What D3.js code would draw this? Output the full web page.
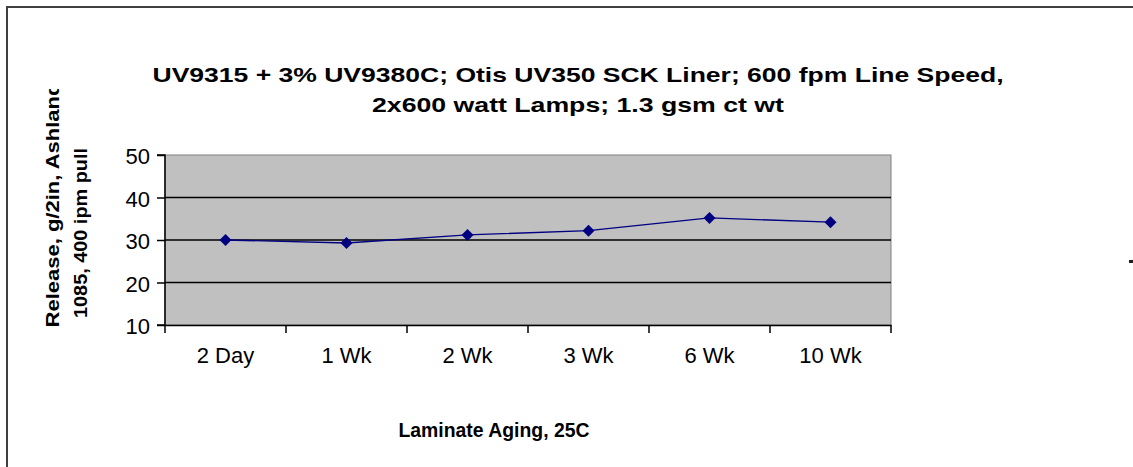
<!DOCTYPE html>
<html><head><meta charset="utf-8">
<script src="https://cdn.jsdelivr.net/npm/d3@7"></script>
<style>body{margin:0;background:#fff}svg{display:block}</style>
</head><body>
<svg id="c" width="1133" height="467"></svg>
<script>
const categories = ["2 Day","1 Wk","2 Wk","3 Wk","6 Wk","10 Wk"];
const releaseValues = [30.0, 29.3, 31.2, 32.2, 35.2, 34.2];
const yTicks = [10,20,30,40,50];
const titleLines = ["UV9315 + 3% UV9380C; Otis UV350 SCK Liner; 600 fpm Line Speed,", "2x600 watt Lamps; 1.3 gsm ct wt"];
const yTitleLines = ["Release, g/2in, Ashland", "1085, 400 ipm pull"];
const xTitle = "Laminate Aging, 25C";

const svg = d3.select("#c");
const L=165,R=891,T=155,B=325;
const x = d3.scaleBand().domain(categories).range([L,R]).padding(0);
const y = d3.scaleLinear().domain([10,50]).range([B,T]);
const FONT = "Liberation Sans, Arial, sans-serif";

// outer frame
svg.append("rect").attr("x",7).attr("y",7).attr("width",1140).attr("height",470)
  .attr("fill","none").attr("stroke","#404040").attr("stroke-width",2);

// plot area
svg.append("rect").attr("x",L).attr("y",T).attr("width",R-L).attr("height",B-T)
  .attr("fill","#c0c0c0").attr("stroke","#808080").attr("stroke-width",1);

// gridlines
svg.append("g").selectAll("line").data(yTicks.filter(d=>d>10&&d<50)).join("line")
  .attr("x1",L).attr("x2",R).attr("y1",d=>y(d)).attr("y2",d=>y(d))
  .attr("stroke","#000").attr("stroke-width",1.5);

// y axis
const ya = svg.append("g").attr("transform",`translate(${L},0)`)
  .call(d3.axisLeft(y).tickValues(yTicks).tickSize(8).tickPadding(7));
ya.select(".domain").attr("stroke","#000").attr("stroke-width",1.5).attr("d",`M-8,${T}H0V${B}H-8`);
ya.selectAll(".tick line").attr("stroke","#000").attr("stroke-width",1.5);
ya.selectAll("text").attr("font-family",FONT).attr("font-size",22)
  .attr("fill","#000").attr("dy","0.4em");

// x axis
const xa = svg.append("g").attr("transform",`translate(0,${B})`)
  .call(d3.axisBottom(x).tickSize(0).tickPadding(22));
xa.select(".domain").attr("stroke","#000").attr("stroke-width",1.5);
xa.selectAll("text").attr("font-family",FONT).attr("font-size",22).attr("fill","#000");
const bounds = categories.map(c=>x(c)).concat([R]);
svg.append("g").selectAll("line").data(bounds).join("line")
  .attr("x1",d=>d).attr("x2",d=>d).attr("y1",B).attr("y2",B+8)
  .attr("stroke","#000").attr("stroke-width",1.5);

// series line
const line = d3.line().x((d,i)=>x(categories[i])+x.bandwidth()/2).y(d=>y(d));
svg.append("path").datum(releaseValues).attr("d",line)
  .attr("fill","none").attr("stroke","#000080").attr("stroke-width",1.3);
svg.append("g").selectAll("path").data(releaseValues).join("path")
  .attr("transform",(d,i)=>`translate(${x(categories[i])+x.bandwidth()/2},${y(d)})`)
  .attr("d","M0,-6L6,0L0,6L-6,0Z").attr("fill","#000080");

// title
const titleLen = [851, 412];
svg.append("g").selectAll("text").data(titleLines).join("text")
  .attr("x",578).attr("y",(d,i)=>82+i*30).attr("text-anchor","middle")
  .attr("textLength",(d,i)=>titleLen[i]).attr("lengthAdjust","spacingAndGlyphs")
  .attr("font-family",FONT).attr("font-weight","bold")
  .attr("font-size",21).attr("fill","#000").text(d=>d);

// y title (clipped)
const yLen = [245, 170], yCen = [205, 233];
svg.append("clipPath").attr("id","yclip").append("rect").attr("x",0).attr("y",89).attr("width",120).attr("height",300);
svg.append("g").attr("clip-path","url(#yclip)").selectAll("text").data(yTitleLines).join("text")
  .attr("transform",(d,i)=>`translate(${59+i*28},${yCen[i]}) rotate(-90)`)
  .attr("text-anchor","middle")
  .attr("textLength",(d,i)=>yLen[i]).attr("lengthAdjust","spacingAndGlyphs")
  .attr("font-family",FONT).attr("font-weight","bold")
  .attr("font-size",19).attr("fill","#000").text(d=>d);

// x title
svg.append("text").attr("x",494).attr("y",437).attr("text-anchor","middle")
  .attr("textLength",191).attr("lengthAdjust","spacingAndGlyphs")
  .attr("font-family",FONT).attr("font-weight","bold")
  .attr("font-size",21).attr("fill","#000").text(xTitle);

// legend remnant
svg.append("rect").attr("x",1129).attr("y",260).attr("width",4).attr("height",3).attr("fill","#202020");
</script>
</body></html>
